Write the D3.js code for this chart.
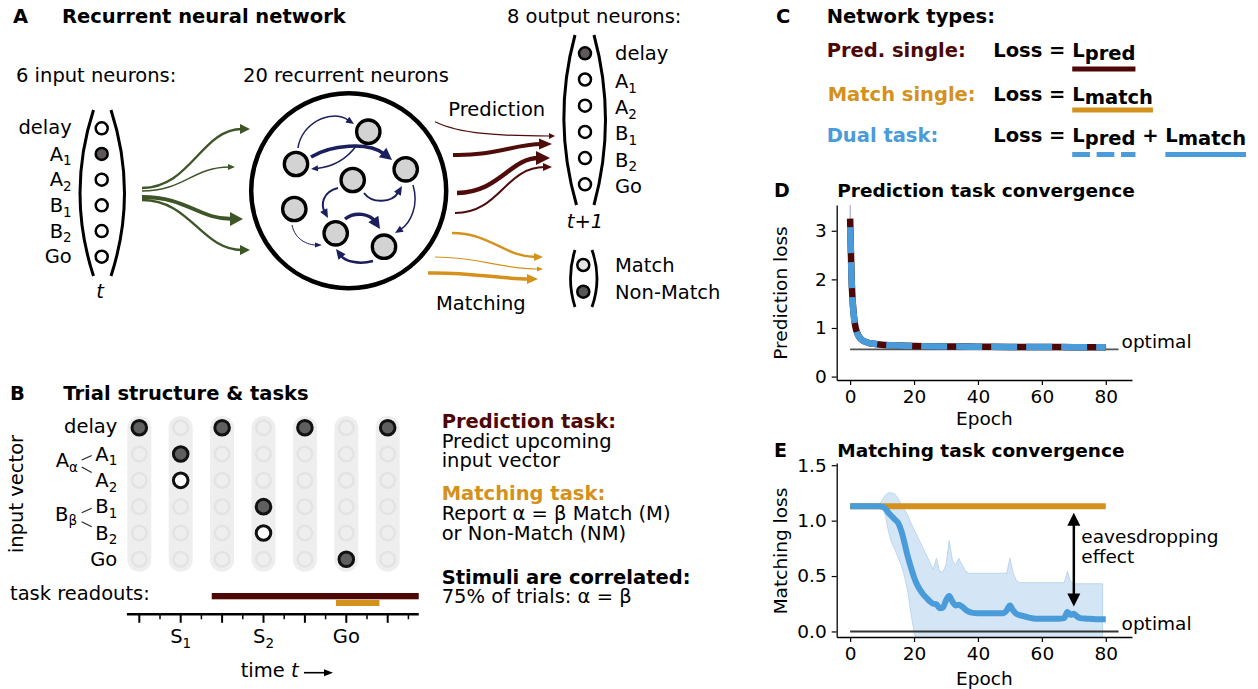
<!DOCTYPE html>
<html>
<head>
<meta charset="utf-8">
<script src="https://cdn.jsdelivr.net/npm/d3@7"></script>
<style>
  body { margin: 0; background: #fff; }
  svg { display: block; font-family: "DejaVu Sans", sans-serif; }
</style>
</head>
<body>
<svg id="fig" width="1258" height="689"></svg>
<script>
// ---------------- data ----------------
// neuron labels (base text, optional subscript)
const inLabels  = [["delay"], ["A", "1"], ["A", "2"], ["B", "1"], ["B", "2"], ["Go"]];
const inActive  = [0, 1, 0, 0, 0, 0];
const outActive = [1, 0, 0, 0, 0, 0];
const readoutNames = ["Match", "Non-Match"];
const readoutOn    = [0, 1];

// trial structure: which input row is on (filled) / alternative (open) at each time step
const trialSteps  = [0, 1, 2, 3, 4, 5, 6];
const trialFilled = [[0], [1], [0], [3], [0], [5], [0]];
const trialOpen   = [[], [2], [], [4], [], [], []];
const timeTickLabels = [{ t: 1, base: "S", sub: "1" }, { t: 3, base: "S", sub: "2" }, { t: 5, base: "Go" }];
const readoutPred  = [1.75, 6.75];
const readoutMatch = [4.75, 5.8];

// D: prediction loss
const predEpoch      = [0, 0.25, 0.5, 0.75, 1, 1.5, 2, 2.5, 3, 4, 5, 6, 8, 10, 15, 20, 30, 40, 50, 60, 70, 80];
const predSingleLoss = [3.25, 2.55, 1.95, 1.6, 1.38, 1.08, 0.94, 0.86, 0.8, 0.74, 0.71, 0.69, 0.67, 0.655, 0.64, 0.63, 0.62, 0.615, 0.61, 0.61, 0.605, 0.605];
const dualPredLoss   = [3.2, 2.5, 1.92, 1.58, 1.36, 1.07, 0.93, 0.85, 0.8, 0.74, 0.71, 0.69, 0.67, 0.655, 0.64, 0.63, 0.62, 0.615, 0.61, 0.61, 0.605, 0.605];
const predBandEpoch  = [0, 0.25, 0.5, 1, 2, 5, 10, 80];
const predBandUpper  = [3.9, 2.75, 2.05, 1.45, 0.98, 0.73, 0.67, 0.62];
const predBandLower  = [2.9, 2.35, 1.85, 1.3, 0.9, 0.69, 0.64, 0.59];
const predOptimal    = 0.56;

// E: matching loss
const matchSingleEpoch = [0, 80];
const matchSingleLoss  = [1.13, 1.13];
const matchEpoch = [0, 5, 9, 10, 11, 12, 13, 14, 15, 16, 17, 18, 19, 20, 21, 22, 23, 24, 25, 26, 27, 28, 29, 30, 31, 32, 33, 34, 35, 36, 37, 38,
                    40, 45, 48, 49, 50, 51, 52, 54, 56, 58, 60, 65, 67, 68, 69, 70, 71, 72, 74, 77, 80];
const dualMatchLoss = [1.13, 1.13, 1.13, 1.125, 1.11, 1.07, 1.04, 1.01, 0.98, 0.91, 0.8, 0.68, 0.58, 0.49, 0.42, 0.37, 0.33, 0.3, 0.27, 0.25, 0.245, 0.21, 0.215, 0.28, 0.32, 0.27, 0.235, 0.24, 0.225, 0.2, 0.18, 0.17,
                       0.165, 0.165, 0.165, 0.19, 0.235, 0.19, 0.16, 0.14, 0.125, 0.115, 0.115, 0.115, 0.12, 0.175, 0.15, 0.16, 0.135, 0.12, 0.115, 0.11, 0.11];
const bandEpoch = [0, 9, 10, 11, 12, 13, 14, 15, 16, 17, 18, 19, 20, 21, 22, 23, 24, 25, 26, 27, 28, 29, 30, 31, 32, 33, 34, 35, 36, 37,
                   49, 50, 51, 52, 53, 67, 68, 69, 70, 79];
const bandUpper = [1.13, 1.135, 1.18, 1.23, 1.25, 1.25, 1.24, 1.2, 1.15, 1.1, 1.05, 0.98, 0.92, 0.86, 0.8, 0.74, 0.68, 0.62, 0.56, 0.66, 0.54, 0.535, 0.6, 0.82, 0.64, 0.6, 0.66, 0.6, 0.55, 0.525,
                   0.525, 0.66, 0.53, 0.46, 0.44, 0.44, 0.54, 0.45, 0.43, 0.43];
const bandLower = [1.13, 1.13, 1.12, 1.05, 0.9, 0.8, 0.74, 0.67, 0.6, 0.5, 0.37, 0.17, 0.0, -0.15, -0.2, -0.2, -0.2, -0.2, -0.2, -0.2, -0.2, -0.2, -0.2, -0.2, -0.2, -0.2, -0.2, -0.2, -0.2, -0.2,
                   -0.2, -0.2, -0.2, -0.2, -0.2, -0.2, -0.2, -0.2, -0.2, -0.2];
const matchOptimal = 0.0;
const optimalEnd = 84;
const xTicks = [0, 20, 40, 60, 80];
const predTicks = [0, 1, 2, 3];
const matchTicks = [0, 0.5, 1.0, 1.5];
const eavesdrop = { epoch: 70, top: 1.07, bottom: 0.225 };

// ---------------- styles ----------------
const COL = {
  pred: "#4e0707", match: "#d4911c", dual: "#4a9bd9", band: "#d4e5f5", bandEdge: "#bcd6ee",
  green: "#3e5528", navy: "#1b1f5e", arrowPred: "#500b0b", arrowMatch: "#d4911c",
  neuron: "#d3d3d3", on: "#5e5858"
};
const FS = 19.5, AXFS = 18.5;
const svg = d3.select("#fig");

// text with optional subscripts; parts: strings or {t, sub (dy), size}
function label(g, x, y, parts, o = {}) {
  const t = g.append("text").attr("x", x).attr("y", y)
    .attr("font-size", o.size || FS)
    .attr("text-anchor", o.anchor || "start")
    .attr("fill", o.fill || "#000");
  if (o.bold) t.attr("font-weight", "bold");
  if (o.italic) t.attr("font-style", "italic");
  if (o.transform) t.attr("transform", o.transform);
  let shift = 0;
  parts.forEach(p => {
    const s = t.append("tspan");
    if (typeof p === "string") {
      if (shift) s.attr("dy", -shift);
      shift = 0;
      s.text(p);
    } else {
      const d = p.sub != null ? p.sub : 0;
      if (d - shift) s.attr("dy", d - shift);
      shift = d;
      if (p.size) s.attr("font-size", p.size);
      if (p.italic) s.attr("font-style", "italic");
      s.text(p.t);
    }
  });
  return t;
}
// multi-line paragraph: lines = [{t, dy, bold, fill}]
function block(g, x, y, lines, size = FS) {
  const t = g.append("text").attr("x", x).attr("y", y).attr("font-size", size).attr("fill", "#000");
  lines.forEach((l, i) => {
    const s = t.append("tspan").attr("x", x).text(l.t);
    if (i > 0) s.attr("dy", l.dy);
    if (l.bold) s.attr("font-weight", "bold");
    if (l.fill) s.attr("fill", l.fill);
  });
  return t;
}
const subParts = l => l.length > 1 ? [l[0], { t: l[1], sub: 4.5, size: 13.5 }] : [l[0]];

// curved arrow with a solid triangular head
function arrow(g, p0, c1, c2, p1, w, color, hl, hw) {
  const dx = p1[0] - c2[0], dy = p1[1] - c2[1], L = Math.hypot(dx, dy);
  const ux = dx / L, uy = dy / L;
  const e = [p1[0] - ux * hl * 0.8, p1[1] - uy * hl * 0.8];
  g.append("path")
    .attr("d", `M${p0[0]},${p0[1]} C${c1[0]},${c1[1]} ${c2[0]},${c2[1]} ${e[0]},${e[1]}`)
    .attr("fill", "none").attr("stroke", color).attr("stroke-width", w);
  const bx = p1[0] - ux * hl, by = p1[1] - uy * hl, nx = -uy, ny = ux;
  g.append("path")
    .attr("d", `M${p1[0]},${p1[1]} L${bx + nx * hw / 2},${by + ny * hw / 2} L${bx - nx * hw / 2},${by - ny * hw / 2} Z`)
    .attr("fill", color);
}
// sigmoid-shaped connection (horizontal tangents at both ends)
function sArrow(g, p0, p1, w, color, hl, hw, k0 = 0.45, k1 = 0.45) {
  const dx = p1[0] - p0[0];
  arrow(g, p0, [p0[0] + dx * k0, p0[1]], [p1[0] - dx * k1, p1[1]], p1, w, color, hl, hw);
}
function bracket(g, x0, y0, cx, x1, y1, w = 3) {
  g.append("path").attr("d", `M${x0},${y0} Q${cx},${(y0 + y1) / 2} ${x1},${y1}`)
    .attr("fill", "none").attr("stroke", "#000").attr("stroke-width", w);
}

// ================= Panel A: network schematic =================
const gA = svg.append("g");
label(gA, 13, 23, ["A"], { bold: true });
label(gA, 62, 23, ["Recurrent neural network"], { bold: true });
label(gA, 16, 82, ["6 input neurons:"]);
label(gA, 243, 82, ["20 recurrent neurons"]);
label(gA, 507, 23, ["8 output neurons:"]);

// input layer
const inY = d3.scaleLinear().domain([0, 5]).range([128.3, 256.7]);
inLabels.forEach((l, i) => {
  label(gA, 71.7, inY(i) + (i === 0 ? 5.5 : 6.7), subParts(l), { anchor: "end" });
  gA.append("circle").attr("cx", 101.7).attr("cy", inY(i)).attr("r", 6)
    .attr("fill", inActive[i] ? COL.on : "#fff").attr("stroke", "#000").attr("stroke-width", 2.5);
});
bracket(gA, 93.5, 110, 66.5, 93.5, 276);
bracket(gA, 111, 110, 138, 111, 276);
label(gA, 100, 298, ["t"], { italic: true, anchor: "middle" });

// input -> recurrent projections
sArrow(gA, [142, 188], [250, 129], 2.3, COL.green, 10, 10);
sArrow(gA, [142, 191], [235, 167], 1.4, COL.green, 7, 6);
sArrow(gA, [142, 197], [243, 219], 3.8, COL.green, 13, 14);
sArrow(gA, [142, 200], [250, 250], 2.3, COL.green, 10, 10);

// recurrent pool
gA.append("circle").attr("cx", 348.7).attr("cy", 190.8).attr("r", 97.5)
  .attr("fill", "none").attr("stroke", "#000").attr("stroke-width", 4.5);
const recur = [[368.3, 131.7], [296, 164], [405.7, 169.3], [352.7, 180], [294.3, 209], [335.7, 233.3], [384, 246.7]];
const gNav = gA.append("g");
arrow(gNav, [298, 148], [301, 124], [330, 108], [354, 124], 1.5, COL.navy, 8, 7);
arrow(gNav, [311, 157], [330, 145], [368, 141], [392, 160], 3.5, COL.navy, 12, 12);
arrow(gNav, [357, 145], [346, 160], [332, 167], [311, 169], 1.4, COL.navy, 7, 6);
arrow(gNav, [338, 188], [322, 192], [321, 205], [328, 218], 2, COL.navy, 9, 8);
arrow(gNav, [364, 193], [372, 204], [392, 203], [402, 186], 2, COL.navy, 9, 8);
arrow(gNav, [413, 185], [419, 205], [411, 223], [395, 233], 1.5, COL.navy, 8, 7);
arrow(gNav, [345, 219], [355, 211], [370, 214], [380, 229], 3.5, COL.navy, 12, 12);
arrow(gNav, [373, 261], [358, 265], [345, 261], [336, 249], 2.5, COL.navy, 10, 9);
arrow(gNav, [292, 225], [295, 240], [308, 245], [322, 245], 1, COL.navy, 7, 5);
recur.forEach(p => gA.append("circle").attr("cx", p[0]).attr("cy", p[1]).attr("r", 11.7)
  .attr("fill", COL.neuron).attr("stroke", "#000").attr("stroke-width", 3.3));

// read-out projections
arrow(gA, [435, 121.7], [460, 134], [500, 136], [555, 136], 1.2, COL.arrowPred, 6, 6);
arrow(gA, [453, 155], [495, 156], [515, 144], [552, 144], 4, COL.arrowPred, 13, 11);
arrow(gA, [457, 193], [500, 192], [510, 158], [550, 158], 4.5, COL.arrowPred, 14, 14);
arrow(gA, [455, 213], [500, 213], [505, 167], [552, 167], 2, COL.arrowPred, 9, 8);
arrow(gA, [452, 233], [490, 233], [505, 257], [543, 257], 2.5, COL.arrowMatch, 9, 8);
arrow(gA, [435, 257], [480, 257], [500, 269], [543, 269], 1.2, COL.arrowMatch, 6, 5);
arrow(gA, [428, 273], [470, 272], [500, 279], [538, 279], 3.5, COL.arrowMatch, 11, 10);
label(gA, 448.3, 116, ["Prediction"]);
label(gA, 436, 310, ["Matching"]);

// output layer
const outY = d3.scaleLinear().domain([0, 5]).range([53.3, 184.3]);
inLabels.forEach((l, i) => {
  label(gA, 615, outY(i) + (i === 0 ? 6.7 : 8.5), subParts(l));
  gA.append("circle").attr("cx", 585).attr("cy", outY(i)).attr("r", 6)
    .attr("fill", outActive[i] ? COL.on : "#fff").attr("stroke", "#000").attr("stroke-width", 2.5);
});
bracket(gA, 575, 35, 552, 576.5, 205);
bracket(gA, 594, 35, 617, 594, 205);
label(gA, 585, 228.3, ["t+1"], { italic: true, anchor: "middle" });

const mY = d3.scaleLinear().domain([0, 1]).range([265, 291.7]);
readoutNames.forEach((n, i) => {
  label(gA, 615, mY(i) + 6.8, [n]);
  gA.append("circle").attr("cx", 583.3).attr("cy", mY(i)).attr("r", 6)
    .attr("fill", readoutOn[i] ? "#555" : "#e4e4e4").attr("stroke", "#000").attr("stroke-width", 2.5);
});
bracket(gA, 575, 250, 566, 575, 307, 2.8);
bracket(gA, 592, 250, 602, 592, 307, 2.8);

// ================= Panel B: trial structure =================
const gB = svg.append("g");
label(gB, 10, 400, ["B"], { bold: true });
label(gB, 63.3, 400, ["Trial structure & tasks"], { bold: true });

const tx = d3.scaleLinear().domain([0, 6]).range([139.3, 387.7]);
const ry = d3.scaleLinear().domain([0, 5]).range([427.7, 559.3]);
trialSteps.forEach(s => {
  gB.append("rect").attr("x", tx(s) - 12).attr("y", 416).attr("width", 24).attr("height", 155.7)
    .attr("rx", 12).attr("fill", "#eeeeee");
  inLabels.forEach((_, r) => {
    const filled = trialFilled[s].includes(r), open = trialOpen[s].includes(r);
    const c = gB.append("circle").attr("cx", tx(s)).attr("cy", ry(r)).attr("r", 7.3);
    if (filled) c.attr("fill", "#5f5f5f").attr("stroke", "#111").attr("stroke-width", 3);
    else if (open) c.attr("fill", "#fff").attr("stroke", "#111").attr("stroke-width", 3);
    else c.attr("fill", "#eeeeee").attr("stroke", "#e3e3e3").attr("stroke-width", 2.5);
  });
});
inLabels.forEach((l, r) => label(gB, 117.3, ry(r) + (r === 0 ? 5 : 6.7), subParts(l), { anchor: "end" }));
label(gB, 78, 467.3, ["A", { t: "α", sub: 4.5, size: 13.5 }], { anchor: "end" });
label(gB, 77, 520.7, ["B", { t: "β", sub: 4.5, size: 13.5 }], { anchor: "end" });
[[81.7, 460, 91.7, 455.5], [81.7, 467, 91.7, 472.5], [81.7, 512.7, 91.7, 508.3], [81.7, 521.7, 91.7, 526.7]]
  .forEach(s => gB.append("line").attr("x1", s[0]).attr("y1", s[1]).attr("x2", s[2]).attr("y2", s[3])
    .attr("stroke", "#222").attr("stroke-width", 1.1));
label(gB, 0, 0, ["input vector"], { anchor: "middle", transform: "translate(22.7,494) rotate(-90)" });

label(gB, 10, 600, ["task readouts:"]);
gB.append("rect").attr("x", tx(readoutPred[0])).attr("width", tx(readoutPred[1]) - tx(readoutPred[0]))
  .attr("y", 593).attr("height", 6.3).attr("fill", COL.pred);
gB.append("rect").attr("x", tx(readoutMatch[0])).attr("width", tx(readoutMatch[1]) - tx(readoutMatch[0]))
  .attr("y", 600).attr("height", 6).attr("fill", COL.match);

// time axis
const axY = 614.3;
gB.append("line").attr("x1", tx(-0.3)).attr("x2", tx(6.75)).attr("y1", axY).attr("y2", axY)
  .attr("stroke", "#000").attr("stroke-width", 2.5);
trialSteps.forEach(s => {
  gB.append("line").attr("x1", tx(s)).attr("x2", tx(s)).attr("y1", axY).attr("y2", axY + 8.5)
    .attr("stroke", "#000").attr("stroke-width", 2);
  gB.append("line").attr("x1", tx(s + 0.5)).attr("x2", tx(s + 0.5)).attr("y1", axY).attr("y2", axY + 5)
    .attr("stroke", "#000").attr("stroke-width", 1.5);
});
timeTickLabels.forEach(d => label(gB, tx(d.t), 643.3, d.sub ? [d.base, { t: d.sub, sub: 4.5, size: 13.5 }] : [d.base], { anchor: "middle" }));
label(gB, 240.7, 676.7, ["time ", { t: "t", italic: true }]);
arrow(gB, [304, 672.7], [315, 672.7], [322, 672.7], [333, 672.7], 1.6, "#000", 9, 7);

// task descriptions
const tX = 441.7;
block(gB, tX, 428.3, [
  { t: "Prediction task:", bold: true, fill: COL.pred },
  { t: "Predict upcoming", dy: 20 },
  { t: "input vector", dy: 19 },
  { t: "Matching task:", dy: 32.7, bold: true, fill: COL.match },
  { t: "Report α = β Match (M)", dy: 20 },
  { t: "or Non-Match (NM)", dy: 20 },
  { t: "Stimuli are correlated:", dy: 44, bold: true },
  { t: "75% of trials: α = β", dy: 19.3 }
]);

// ================= Panel C: network types =================
const gC = svg.append("g");
label(gC, 776, 23.3, ["C"], { bold: true });
label(gC, 826.7, 23.3, ["Network types:"], { bold: true });
label(gC, 826.7, 57.3, ["Pred. single:"], { bold: true, fill: COL.pred });
label(gC, 827.7, 100.7, ["Match single:"], { bold: true, fill: COL.match });
label(gC, 826.7, 141.7, ["Dual task:"], { bold: true, fill: COL.dual });
const eq1 = label(gC, 993.3, 57.3, ["Loss = L", { t: "pred", sub: 3 }], { bold: true });
const eq2 = label(gC, 993.3, 100.7, ["Loss = L", { t: "match", sub: 3 }], { bold: true });
const eq3 = label(gC, 993.3, 141.7, ["Loss = L", { t: "pred", sub: 3 }, " + L", { t: "match", sub: 3 }], { bold: true });
function span(t, a, b) {
  const n = t.node();
  return [n.getStartPositionOfChar(a).x, n.getEndPositionOfChar(b).x];
}
function underline(x, y, color, dash) {
  const l = gC.append("line").attr("x1", x[0]).attr("x2", x[1]).attr("y1", y).attr("y2", y)
    .attr("stroke", color).attr("stroke-width", 5);
  if (dash) l.attr("stroke-dasharray", dash);
}
underline(span(eq1, 7, 11), 69, COL.pred);
underline(span(eq2, 7, 12), 110, COL.match);
underline(span(eq3, 7, 11), 154.5, COL.dual, "17.7,6.7");
underline(span(eq3, 15, 20), 154.5, COL.dual);

// ================= shared axis helpers for D / E =================
const xRange = [836.7, 1132];
const xDom = [-4.2, 88.2];
function styleAxis(g) {
  g.select(".domain").attr("stroke", "#000").attr("stroke-width", 1.3);
  g.selectAll(".tick line").attr("stroke", "#000").attr("stroke-width", 1.2);
  g.selectAll(".tick text").attr("font-size", AXFS).attr("font-family", "DejaVu Sans").attr("fill", "#000");
}
function panelAxes(g, x, y, yTicks, yFmt, yLabel, titleLetter, title, titleY, yLabelY) {
  const [yb] = y.range();
  g.append("g").attr("transform", `translate(0,${yb})`)
    .call(d3.axisBottom(x).tickValues(xTicks).tickSize(5).tickPadding(5).tickSizeOuter(0))
    .call(styleAxis);
  g.append("g").attr("transform", `translate(${xRange[0]},0)`)
    .call(d3.axisLeft(y).tickValues(yTicks).tickFormat(yFmt).tickSize(5).tickPadding(5).tickSizeOuter(0))
    .call(styleAxis);
  label(g, 774, titleY, [titleLetter], { bold: true, size: AXFS + 0.5 });
  label(g, 837.3, titleY, [title], { bold: true, size: AXFS });
  label(g, 0, 0, [yLabel], { anchor: "middle", size: AXFS, transform: `translate(787,${yLabelY}) rotate(-90)` });
}

// ================= Panel D: prediction convergence =================
const gD = svg.append("g");
const xD = d3.scaleLinear().domain(xDom).range(xRange);
const yD = d3.scaleLinear().domain([-0.07, 3.53]).range([380, 205]);
svg.append("defs").append("clipPath").attr("id", "clipD").append("rect")
  .attr("x", xRange[0]).attr("y", 205).attr("width", xRange[1] - xRange[0]).attr("height", 175);
const plotD = gD.append("g").attr("clip-path", "url(#clipD)");
const bandD = predBandEpoch.map((e, i) => ({ e, hi: predBandUpper[i], lo: predBandLower[i] }));
plotD.append("path").datum(bandD)
  .attr("d", d3.area().x(d => xD(d.e)).y0(d => yD(d.lo)).y1(d => yD(d.hi)))
  .attr("fill", "#c3cde0").attr("stroke", "#b3bfd6").attr("stroke-width", 1.2);
plotD.append("line").attr("x1", xD(0)).attr("x2", xD(optimalEnd)).attr("y1", yD(predOptimal)).attr("y2", yD(predOptimal))
  .attr("stroke", "#555").attr("stroke-width", 1.8);
const lineD = d3.line().x(d => xD(d[0])).y(d => yD(d[1])).curve(d3.curveMonotoneX);
plotD.append("path").datum(predEpoch.map((e, i) => [e, predSingleLoss[i]])).attr("d", lineD)
  .attr("fill", "none").attr("stroke", COL.pred).attr("stroke-width", 6.5).attr("stroke-linejoin", "round");
plotD.append("path").datum(predEpoch.map((e, i) => [e, dualPredLoss[i]])).attr("d", lineD)
  .attr("fill", "none").attr("stroke", COL.dual).attr("stroke-width", 6.5).attr("stroke-linejoin", "round")
  .attr("stroke-dasharray", "26,9").attr("stroke-dashoffset", 29);
label(gD, xD(optimalEnd) + 3, yD(predOptimal) - 1, ["optimal"], { size: AXFS });
panelAxes(gD, xD, yD, predTicks, d3.format("d"), "Prediction loss", "D", "Prediction task convergence", 196.7, 293);
label(gD, (xRange[0] + xRange[1]) / 2, 425, ["Epoch"], { anchor: "middle", size: AXFS });

// ================= Panel E: matching convergence =================
const gE = svg.append("g");
const xE = d3.scaleLinear().domain(xDom).range(xRange);
const yE = d3.scaleLinear().domain([-0.05, 1.52]).range([637, 463]);
svg.select("defs").append("clipPath").attr("id", "clipE").append("rect")
  .attr("x", xRange[0]).attr("y", 463).attr("width", xRange[1] - xRange[0]).attr("height", 174);
const plotE = gE.append("g").attr("clip-path", "url(#clipE)");
const bandE = bandEpoch.map((e, i) => ({ e, hi: bandUpper[i], lo: bandLower[i] }));
plotE.append("path").datum(bandE)
  .attr("d", d3.area().x(d => xE(d.e)).y0(d => yE(d.lo)).y1(d => yE(d.hi)))
  .attr("fill", COL.band).attr("stroke", COL.bandEdge).attr("stroke-width", 1);
plotE.append("line").attr("x1", xE(0)).attr("x2", xE(optimalEnd)).attr("y1", yE(matchOptimal)).attr("y2", yE(matchOptimal))
  .attr("stroke", "#333").attr("stroke-width", 2);
const lineE = d3.line().x(d => xE(d[0])).y(d => yE(d[1])).curve(d3.curveMonotoneX);
plotE.append("path").datum(matchSingleEpoch.map((e, i) => [e, matchSingleLoss[i]])).attr("d", lineE)
  .attr("fill", "none").attr("stroke", COL.match).attr("stroke-width", 6);
plotE.append("path").datum(matchEpoch.map((e, i) => [e, dualMatchLoss[i]])).attr("d", lineE)
  .attr("fill", "none").attr("stroke", COL.dual).attr("stroke-width", 6).attr("stroke-linejoin", "round");
label(gE, xE(optimalEnd) + 3, yE(matchOptimal) - 1.5, ["optimal"], { size: AXFS });

// eavesdropping effect: double-headed arrow
{
  const ax = xE(eavesdrop.epoch), y0 = yE(eavesdrop.top), y1 = yE(eavesdrop.bottom);
  gE.append("line").attr("x1", ax).attr("x2", ax).attr("y1", y0 + 10).attr("y2", y1 - 10)
    .attr("stroke", "#000").attr("stroke-width", 2.5);
  [[y0, 1], [y1, -1]].forEach(([tip, s]) => gE.append("path")
    .attr("d", `M${ax},${tip} L${ax - 6.5},${tip + s * 13} L${ax + 6.5},${tip + s * 13} Z`).attr("fill", "#000"));
  block(gE, ax + 7.5, 542.7, [{ t: "eavesdropping" }, { t: "effect", dy: 20.6 }], AXFS);
}
panelAxes(gE, xE, yE, matchTicks, d3.format(".1f"), "Matching loss", "E", "Matching task convergence", 456.7, 551);
label(gE, (xRange[0] + xRange[1]) / 2, 685, ["Epoch"], { anchor: "middle", size: AXFS });
</script>
</body>
</html>
